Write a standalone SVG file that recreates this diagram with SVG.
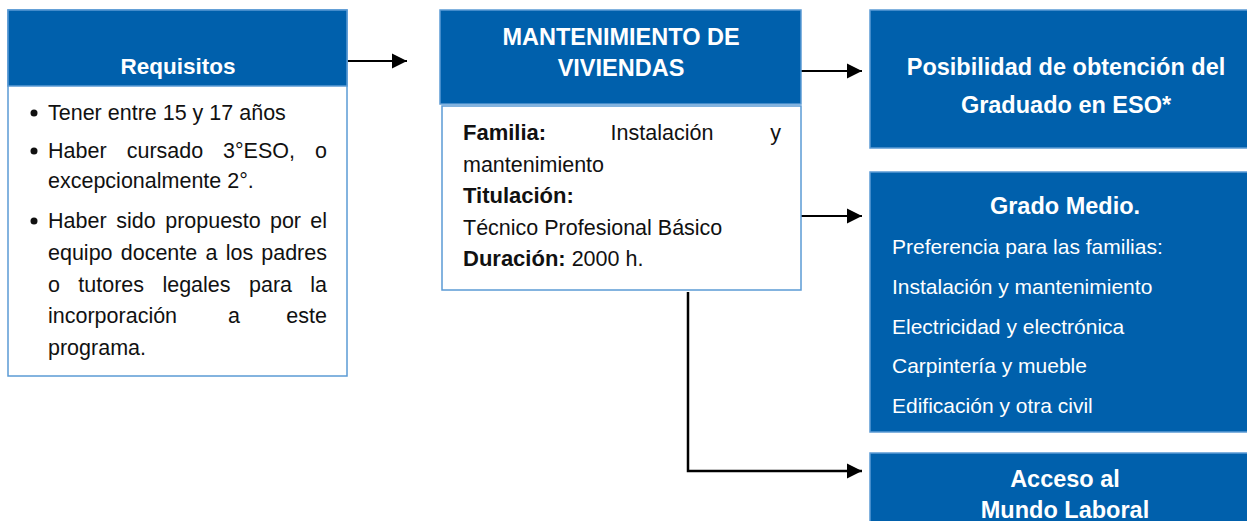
<svg xmlns="http://www.w3.org/2000/svg" width="1247" height="521" viewBox="0 0 1247 521">
<defs>
<style>
.hdr{fill:#0060ac;stroke:#5b9bd5;stroke-width:1.5}
.bod{fill:#fff;stroke:#5b9bd5;stroke-width:1.5}
.ht{font-family:"Liberation Sans",Arial,sans-serif;font-weight:bold;fill:#fff;font-size:23.5px;text-anchor:middle}
.t{font-family:"Liberation Sans",Arial,sans-serif;font-size:21.5px;fill:#111}
.tw{font-family:"Liberation Sans",Arial,sans-serif;font-size:21px;fill:#fff}
.b{font-weight:bold;font-size:22px}
.m{text-anchor:middle}
.e{text-anchor:end}
.c{stroke:#000;stroke-width:2;fill:none}
</style>
<marker id="ah" markerUnits="userSpaceOnUse" markerWidth="16" markerHeight="16" viewBox="0 0 16 16" refX="15" refY="8" orient="auto">
<path d="M0,0.5 L15,8 L0,15.5 Z" fill="#000"/>
</marker>
</defs>
<rect width="1247" height="521" fill="#fff"/>

<g id="connectors">
<line class="c" x1="347" y1="61" x2="407" y2="61" marker-end="url(#ah)"/>
<line class="c" x1="801" y1="71" x2="862" y2="71" marker-end="url(#ah)"/>
<line class="c" x1="801" y1="216" x2="862" y2="216" marker-end="url(#ah)"/>
<path class="c" style="stroke-width:2.5" d="M688,292 L688,471 L862,471" marker-end="url(#ah)"/>
</g>

<g id="requisitos">
<rect class="bod" x="8" y="10" width="339" height="366"/>
<rect class="hdr" x="8" y="10" width="339" height="76"/>
<text class="ht" x="178" y="74" style="font-size:22.5px">Requisitos</text>
<g fill="#111">
<circle cx="34" cy="113" r="3.5"/>
<circle cx="34" cy="151" r="3.5"/>
<circle cx="34" cy="221" r="3.5"/>
</g>
<text class="t" x="48" y="120">Tener entre 15 y 17 años</text>
<text class="t" x="48" y="158">Haber</text>
<text class="t m" x="165" y="158">cursado</text>
<text class="t m" x="259" y="158">3°ESO,</text>
<text class="t e" x="327" y="158">o</text>
<text class="t" x="48" y="188">excepcionalmente 2°.</text>
<text class="t" x="48" y="228">Haber</text>
<text class="t m" x="136" y="228">sido</text>
<text class="t m" x="213" y="228">propuesto</text>
<text class="t m" x="285.5" y="228">por</text>
<text class="t e" x="327" y="228">el</text>
<text class="t" x="48" y="260">equipo</text>
<text class="t m" x="159" y="260">docente</text>
<text class="t m" x="211.4" y="260">a</text>
<text class="t m" x="239.4" y="260">los</text>
<text class="t e" x="327" y="260">padres</text>
<text class="t" x="48" y="292">o</text>
<text class="t m" x="111.2" y="292">tutores</text>
<text class="t m" x="196.5" y="292">legales</text>
<text class="t m" x="270.5" y="292">para</text>
<text class="t e" x="327" y="292">la</text>
<text class="t" x="48" y="323">incorporación</text>
<text class="t m" x="234" y="323">a</text>
<text class="t e" x="327" y="323">este</text>
<text class="t" x="48" y="355">programa.</text>
</g>

<g id="mantenimiento">
<rect class="hdr" x="440" y="10" width="361" height="94"/>
<text class="ht" x="621" y="45">MANTENIMIENTO DE</text>
<text class="ht" x="621" y="76">VIVIENDAS</text>
<rect class="bod" x="442" y="106" width="359" height="184"/>
<text class="t b" x="463" y="140">Familia:</text>
<text class="t m" x="662" y="140">Instalación</text>
<text class="t e" x="781" y="140">y</text>
<text class="t" x="463" y="172">mantenimiento</text>
<text class="t b" x="463" y="203">Titulación:</text>
<text class="t" x="463" y="235">Técnico Profesional Básico</text>
<text class="t" x="463" y="266"><tspan class="b">Duración:</tspan> 2000 h.</text>
</g>

<g id="graduado">
<rect class="hdr" x="870" y="10" width="390" height="138"/>
<text class="ht" x="1066" y="75">Posibilidad de obtención del</text>
<text class="ht" x="1066" y="113">Graduado en ESO*</text>
</g>

<g id="grado-medio">
<rect class="hdr" x="870" y="172" width="390" height="260"/>
<text class="ht" x="1065" y="214">Grado Medio.</text>
<text class="tw" x="892" y="254">Preferencia para las familias:</text>
<text class="tw" x="892" y="294">Instalación y mantenimiento</text>
<text class="tw" x="892" y="334">Electricidad y electrónica</text>
<text class="tw" x="892" y="373">Carpintería y mueble</text>
<text class="tw" x="892" y="413">Edificación y otra civil</text>
</g>

<g id="mundo-laboral">
<rect class="hdr" x="870" y="453" width="390" height="90"/>
<text class="ht" x="1065" y="487">Acceso al</text>
<text class="ht" x="1065" y="518">Mundo Laboral</text>
</g>
</svg>
